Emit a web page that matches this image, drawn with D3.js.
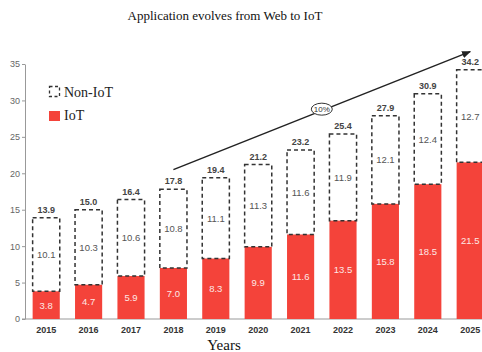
<!DOCTYPE html>
<html>
<meta charset="utf-8">
<style>
body { margin: 0; background: #fff; }
svg text { font-family: "Liberation Sans", Arial, sans-serif; }
.serif { font-family: "Liberation Serif", "Times New Roman", serif; }
</style>
<body>
<script src="https://d3js.org/d3.v7.min.js"></script>
<script>
var width = 482,
    height = 352;

var years = ["2015","2016","2017","2018","2019","2020","2021","2022","2023","2024","2025"];
var iot = [3.8, 4.7, 5.9, 7.0, 8.3, 9.9, 11.6, 13.5, 15.8, 18.5, 21.5];
var nonIot = [10.1, 10.3, 10.6, 10.8, 11.1, 11.3, 11.6, 11.9, 12.1, 12.4, 12.7];
var totals = [13.9, 15.0, 16.4, 17.8, 19.4, 21.2, 23.2, 25.4, 27.9, 30.9, 34.2];
var yTicks = [0, 5, 10, 15, 20, 25, 30, 35];

var red = "#f4433a";

var data = years.map(function(y, i) {
  return { year: y, iot: iot[i], non: nonIot[i], total: totals[i] };
});

var svg = d3.select("body").append("svg")
    .attr("width", width)
    .attr("height", height);

var x = d3.scaleBand()
    .domain(years)
    .range([25, 491.4])
    .paddingInner(0.36)
    .paddingOuter(0.18);

var y = d3.scaleLinear()
    .domain([0, 35])
    .range([319, 64]);

// title
svg.append("text")
    .attr("class", "serif")
    .attr("x", 225).attr("y", 20)
    .attr("text-anchor", "middle")
    .style("font-size", "13px")
    .style("fill", "#111")
    .text("Application evolves from Web to IoT");

// y axis
var yAxis = svg.append("g")
    .attr("transform", "translate(25,0)")
    .call(d3.axisLeft(y).tickValues(yTicks).tickSize(3).tickPadding(2).tickSizeOuter(0));
yAxis.select(".domain").attr("stroke", "#999");
yAxis.selectAll(".tick line").attr("stroke", "#999");
yAxis.selectAll(".tick text").style("font-size", "9px").style("fill", "#666");

// x axis line
svg.append("line")
    .attr("x1", 22).attr("x2", width)
    .attr("y1", y(0)).attr("y2", y(0))
    .attr("stroke", "#999");

// year labels
svg.selectAll(".year")
  .data(data)
  .enter().append("text")
    .attr("class", "year")
    .attr("x", function(d) { return x(d.year) + x.bandwidth() / 2; })
    .attr("y", 333)
    .attr("text-anchor", "middle")
    .style("font-size", "9px")
    .style("font-weight", "bold")
    .style("fill", "#333")
    .text(function(d) { return d.year; });

svg.append("text")
    .attr("class", "serif")
    .attr("x", 224).attr("y", 350)
    .attr("text-anchor", "middle")
    .style("font-size", "15px")
    .style("fill", "#111")
    .text("Years");

// IoT bars
svg.selectAll(".iot")
  .data(data)
  .enter().append("rect")
    .attr("class", "iot")
    .attr("x", function(d) { return x(d.year); })
    .attr("y", function(d) { return y(d.iot); })
    .attr("width", x.bandwidth())
    .attr("height", function(d) { return y(0) - y(d.iot); })
    .style("fill", red);

// Non-IoT dashed boxes
svg.selectAll(".non")
  .data(data)
  .enter().append("rect")
    .attr("class", "non")
    .attr("x", function(d) { return x(d.year); })
    .attr("y", function(d) { return y(d.total); })
    .attr("width", x.bandwidth())
    .attr("height", function(d) { return y(d.iot) - y(d.total); })
    .style("fill", "none")
    .style("stroke", "#333")
    .style("stroke-width", 1.5)
    .style("stroke-dasharray", "4,3");

// labels
svg.selectAll(".iotLabel")
  .data(data)
  .enter().append("text")
    .attr("x", function(d) { return x(d.year) + x.bandwidth() / 2; })
    .attr("y", function(d) { return (y(d.iot) + y(0)) / 2 + 3.5; })
    .attr("text-anchor", "middle")
    .style("font-size", "9.5px")
    .style("fill", "#fde8e6")
    .text(function(d) { return d.iot.toFixed(1); });

svg.selectAll(".nonLabel")
  .data(data)
  .enter().append("text")
    .attr("x", function(d) { return x(d.year) + x.bandwidth() / 2; })
    .attr("y", function(d) { return (y(d.iot) + y(d.total)) / 2 + 3.5; })
    .attr("text-anchor", "middle")
    .style("font-size", "9.5px")
    .style("fill", "#555")
    .text(function(d) { return d.non.toFixed(1); });

svg.selectAll(".totLabel")
  .data(data)
  .enter().append("text")
    .attr("x", function(d) { return x(d.year) + x.bandwidth() / 2; })
    .attr("y", function(d) { return y(d.total) - 5; })
    .attr("text-anchor", "middle")
    .style("font-size", "9px")
    .style("font-weight", "bold")
    .style("fill", "#444")
    .text(function(d) { return d.total.toFixed(1); });

// growth arrow
svg.append("defs").append("marker")
    .attr("id", "head")
    .attr("viewBox", "0 0 10 10")
    .attr("refX", 9).attr("refY", 5)
    .attr("markerWidth", 6).attr("markerHeight", 6)
    .attr("orient", "auto")
  .append("path")
    .attr("d", "M0,1L10,5L0,9z")
    .style("fill", "#222");

var cx = function(yr) { return x(yr) + x.bandwidth() / 2; };
svg.append("line")
    .attr("x1", cx("2018")).attr("y1", y(20.5))
    .attr("x2", cx("2025")).attr("y2", y(36.7))
    .attr("stroke", "#222")
    .attr("stroke-width", 1.5)
    .attr("marker-end", "url(#head)");

var ex = (cx("2021") + cx("2022")) / 2,
    ey = y(28.8);
svg.append("ellipse")
    .attr("cx", ex).attr("cy", ey)
    .attr("rx", 10.5).attr("ry", 6)
    .style("fill", "#fff")
    .style("stroke", "#333");
svg.append("text")
    .attr("x", ex).attr("y", ey + 3)
    .attr("text-anchor", "middle")
    .style("font-size", "8px")
    .style("fill", "#333")
    .text("10%");

// legend
svg.append("rect")
    .attr("x", 49.5).attr("y", 86.5)
    .attr("width", 10).attr("height", 10)
    .style("fill", "none")
    .style("stroke", "#333")
    .style("stroke-width", 1.3)
    .style("stroke-dasharray", "3,2.5");
svg.append("text")
    .attr("class", "serif")
    .attr("x", 64).attr("y", 97)
    .style("font-size", "14px")
    .style("fill", "#222")
    .text("Non-IoT");
svg.append("rect")
    .attr("x", 49).attr("y", 111)
    .attr("width", 11).attr("height", 10)
    .style("fill", red);
svg.append("text")
    .attr("class", "serif")
    .attr("x", 64).attr("y", 120)
    .style("font-size", "14px")
    .style("fill", "#222")
    .text("IoT");
</script>
</body>
</html>
